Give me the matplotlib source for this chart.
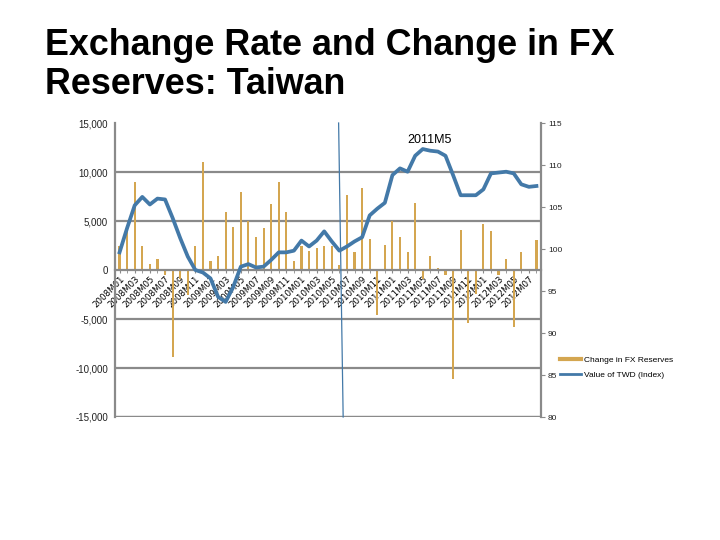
import matplotlib
matplotlib.use("Agg")
import matplotlib.pyplot as plt
from matplotlib.lines import Line2D
from matplotlib.ticker import FuncFormatter, MultipleLocator
import numpy as np

plt.rcParams['font.family'] = ['Liberation Sans', 'DejaVu Sans']

# ---- data ----
months = [f"{y}M{m:02d}" for y in range(2008, 2013) for m in range(1, 13)][:56]

fx_change = [2500, 4000, 9000, 2400, 600, 1100, -500, -8900, -900, -2500,
             2400, 11000, 900, 1400, 5900, 4400, 8000, 5000, 3400, 4300,
             6700, 9000, 5900, 900, 2400, 1900, 2200, 2400, 2400, 500,
             7700, 1800, 8400, 3200, -4600, 2600, 5000, 3400, 1800, 6800,
             -900, 1400, 250, -500, -11100, 4100, -5400, -2400, 4700, 4000,
             -500, 1100, -5800, 1800, 100, 3100]

twd_index = [99.6, 102.5, 105.2, 106.2, 105.3, 106.0, 105.9, 103.7, 101.3, 99.1,
             97.5, 97.2, 96.5, 94.3, 93.7, 95.5, 97.9, 98.2, 97.8, 97.9,
             98.7, 99.6, 99.6, 99.8, 101.0, 100.3, 101.0, 102.1, 100.9, 99.8,
             100.3, 100.9, 101.4, 104.0, 104.8, 105.5, 108.8, 109.6, 109.2, 111.1,
             111.9, 111.7, 111.6, 111.1, 108.8, 106.4, 106.4, 106.4, 107.1, 109.0,
             109.1, 109.2, 109.0, 107.7, 107.4, 107.5]

title_lines = ["Exchange Rate and Change in FX", "Reserves: Taiwan"]
annotation = "2011M5"
marker_idx = (28.9, 29.5)

bar_color = "#D4A650"
line_color = "#4379A8"
grid_color = "#8A8A8A"

fig = plt.figure(figsize=(7.2, 5.4), dpi=100)
ax = fig.add_axes([115/720, 1-417/540, 426/720, 294/540])
x = np.arange(len(months))

ax.bar(x, fx_change, width=0.28, color=bar_color, zorder=2)
ax.set_xlim(-0.6, len(months) - 0.4)
ax.set_ylim(-15000, 15000)
ax.yaxis.set_major_locator(MultipleLocator(5000))
ax.yaxis.set_major_formatter(FuncFormatter(lambda v, p: f"{int(v):,}"))
ax.grid(axis='y', color=grid_color, lw=1.6, zorder=0)
for gl, loc in zip(ax.get_ygridlines(), ax.get_yticks()):
    if loc >= 15000 or loc == 0:
        gl.set_visible(False)
ax.tick_params(axis='y', length=0, labelsize=7, pad=5, colors='#222222')

ax.spines['top'].set_visible(False)
ax.spines['right'].set_visible(False)
ax.spines['left'].set_color(grid_color)
ax.spines['left'].set_linewidth(1.6)
ax.spines['bottom'].set_position(('data', 0))
ax.spines['bottom'].set_color(grid_color)
ax.spines['bottom'].set_linewidth(1.6)
ax.axhline(-15000, color=grid_color, lw=1.6, zorder=1)

ax.set_xticks(x, minor=True)
ax.set_xticks(x[::2])
ax.set_xticklabels(months[::2], rotation=45, ha='right', va='top',
                   rotation_mode='anchor', fontsize=6.2, family='DejaVu Sans')
ax.tick_params(axis='x', which='both', length=2, color=grid_color, pad=1)

ax2 = ax.twinx()
ax2.set_ylim(80, 115)
ax2.yaxis.set_major_locator(MultipleLocator(5))
ax2.plot(x, twd_index, color=line_color, lw=2.7, zorder=3, solid_joinstyle='round')
for s in ['top', 'left', 'bottom']:
    ax2.spines[s].set_visible(False)
ax2.spines['right'].set_color(grid_color)
ax2.spines['right'].set_linewidth(1.6)
ax2.tick_params(axis='y', length=3, color=grid_color, labelsize=6, pad=2, colors='#222222')

ax.plot([marker_idx[0], marker_idx[1]], [15000, -15000], color=line_color, lw=0.9, zorder=4,
        clip_on=False)
ax.text(0.739, 0.942, annotation, transform=ax.transAxes, ha='center', va='center',
        fontsize=9)

fig.text(45/720, 1-55/540, title_lines[0], fontsize=25.8, fontweight='bold',
         ha='left', va='baseline')
fig.text(45/720, 1-94/540, title_lines[1], fontsize=25.8, fontweight='bold',
         ha='left', va='baseline')

handles = [Line2D([], [], color=bar_color, lw=3),
           Line2D([], [], color=line_color, lw=2)]
fig.legend(handles, ["Change in FX Reserves", "Value of TWD (Index)"],
           loc='upper left', bbox_to_anchor=(552/720, 1-349/540), frameon=False,
           fontsize=6, handlelength=2.6, handletextpad=0.3, labelspacing=0.85)

fig.savefig("out.png", dpi=100)
